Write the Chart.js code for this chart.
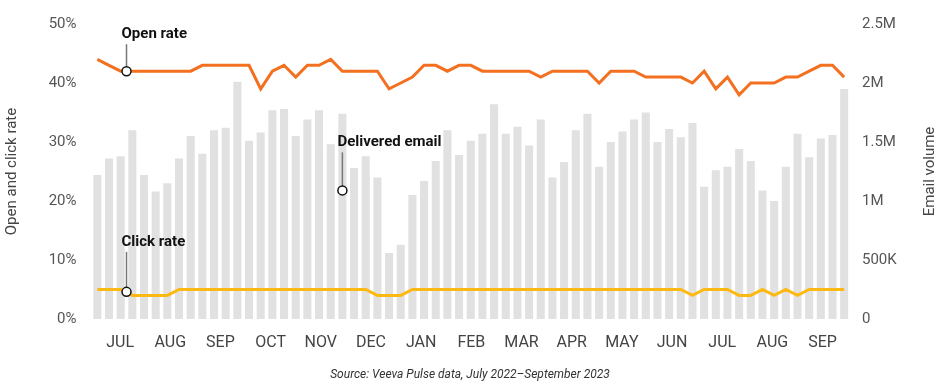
<!DOCTYPE html>
<html>
<head>
<meta charset="utf-8">
<script src="https://cdn.jsdelivr.net/npm/chart.js@4.4.0/dist/chart.umd.min.js"></script>
<style>
  html, body { margin: 0; padding: 0; background: #fff; }
  #wrap { width: 941px; height: 391px; position: relative; }
</style>
</head>
<body>
<div id="wrap"><canvas id="chart" width="941" height="391"></canvas></div>
<script>
// weekly data, July 2022 - September 2023
const deliveredEmail = [
  1.22, 1.36, 1.38, 1.60, 1.22, 1.08, 1.15, 1.36, 1.55, 1.40,
  1.60, 1.62, 2.01, 1.51, 1.58, 1.77, 1.78, 1.55, 1.69, 1.77,
  1.48, 1.74, 1.28, 1.38, 1.20, 0.56, 0.63, 1.05, 1.17, 1.34,
  1.60, 1.39, 1.51, 1.57, 1.82, 1.57, 1.63, 1.47, 1.69, 1.20,
  1.33, 1.60, 1.74, 1.29, 1.50, 1.59, 1.69, 1.75, 1.50, 1.61,
  1.54, 1.66, 1.12, 1.26, 1.29, 1.44, 1.34, 1.09, 1.00, 1.29,
  1.57, 1.37, 1.53, 1.56, 1.95
]; // millions
const openRate = [
  44, 43, 42, 42, 42, 42, 42, 42, 42, 43,
  43, 43, 43, 43, 39, 42, 43, 41, 43, 43,
  44, 42, 42, 42, 42, 39, 40, 41, 43, 43,
  42, 43, 43, 42, 42, 42, 42, 42, 41, 42,
  42, 42, 42, 40, 42, 42, 42, 41, 41, 41,
  41, 40, 42, 39, 41, 38, 40, 40, 40, 41,
  41, 42, 43, 43, 41
];
const clickRate = [
  5, 5, 5, 4, 4, 4, 4, 5, 5, 5,
  5, 5, 5, 5, 5, 5, 5, 5, 5, 5,
  5, 5, 5, 5, 4, 4, 4, 5, 5, 5,
  5, 5, 5, 5, 5, 5, 5, 5, 5, 5,
  5, 5, 5, 5, 5, 5, 5, 5, 5, 5,
  5, 4, 5, 5, 5, 4, 4, 5, 4, 5,
  4, 5, 5, 5, 5
];
const monthLabels = ['JUL', 'AUG', 'SEP', 'OCT', 'NOV', 'DEC', 'JAN', 'FEB', 'MAR', 'APR', 'MAY', 'JUN', 'JUL', 'AUG', 'SEP'];
// position of each month label, in weeks from the first bar
const monthTickPos = [1.95, 6.25, 10.55, 14.85, 19.15, 23.45, 27.75, 32.05, 36.35, 40.65, 44.95, 49.25, 53.55, 57.85, 62.15];

const callouts = [
  { text: 'Open rate', x: 2.5, y: 42, axis: 'yRate', dy: -37 },
  { text: 'Click rate', x: 2.5, y: 4.6, axis: 'yRate', dy: -50 },
  { text: 'Delivered email', x: 21, y: 1.09, axis: 'yVol', dy: -48 }
];

const toPoints = arr => arr.map((v, i) => ({ x: i, y: v }));

const extrasPlugin = {
  id: 'extras',
  afterDatasetsDraw(chart) {
    const ctx = chart.ctx;
    const xs = chart.scales.x;
    const area = chart.chartArea;
    ctx.save();
    callouts.forEach(c => {
      const px = xs.getPixelForValue(c.x);
      const py = chart.scales[c.axis].getPixelForValue(c.y);
      ctx.strokeStyle = '#777';
      ctx.lineWidth = 1.5;
      ctx.beginPath();
      ctx.moveTo(px, py + c.dy + 10);
      ctx.lineTo(px, py);
      ctx.stroke();
      ctx.beginPath();
      ctx.arc(px, py, 4.5, 0, Math.PI * 2);
      ctx.fillStyle = '#fff';
      ctx.fill();
      ctx.strokeStyle = '#111';
      ctx.lineWidth = 1.5;
      ctx.stroke();
      ctx.fillStyle = '#111';
      ctx.font = 'bold 15px Roboto';
      ctx.textAlign = 'left';
      ctx.textBaseline = 'middle';
      ctx.fillText(c.text, px - 5, py + c.dy);
    });

    // right axis title, reading bottom to top
    ctx.save();
    ctx.font = '15px Roboto';
    ctx.fillStyle = '#444';
    ctx.textAlign = 'center';
    ctx.textBaseline = 'middle';
    ctx.translate(930, (area.top + area.bottom) / 2);
    ctx.rotate(-Math.PI / 2);
    ctx.fillText('Email volume', 0, 0);
    ctx.restore();

    // source line
    ctx.font = 'italic 12px Roboto';
    ctx.fillStyle = '#333';
    ctx.textAlign = 'center';
    ctx.textBaseline = 'middle';
    ctx.fillText('Source: Veeva Pulse data, July 2022\u2013September 2023', 470, 375);
    ctx.restore();
  }
};

const ctx = document.getElementById('chart').getContext('2d');
new Chart(ctx, {
  data: {
    datasets: [
      {
        type: 'line',
        label: 'Open rate',
        data: toPoints(openRate),
        yAxisID: 'yRate',
        borderColor: '#F37021',
        borderWidth: 3,
        pointRadius: 0,
        tension: 0,
        order: 1
      },
      {
        type: 'line',
        label: 'Click rate',
        data: toPoints(clickRate),
        yAxisID: 'yRate',
        borderColor: '#FDB913',
        borderWidth: 3,
        pointRadius: 0,
        tension: 0,
        order: 2
      },
      {
        type: 'bar',
        label: 'Delivered email',
        data: toPoints(deliveredEmail),
        yAxisID: 'yVol',
        backgroundColor: '#E1E1E1',
        barPercentage: 0.69,
        categoryPercentage: 1,
        order: 3
      }
    ]
  },
  options: {
    responsive: false,
    animation: false,
    layout: { padding: { top: 18, right: 0, left: 0, bottom: 0 } },
    plugins: {
      legend: { display: false },
      tooltip: { enabled: false }
    },
    scales: {
      x: {
        type: 'linear',
        offset: false,
        min: -0.5,
        max: 64.5,
        grid: { display: false, drawTicks: false },
        border: { display: false },
        afterBuildTicks: axis => {
          axis.ticks = monthTickPos.map(v => ({ value: v }));
        },
        afterFit: axis => { axis.height = 72; },
        ticks: {
          autoSkip: false,
          maxRotation: 0,
          padding: 14,
          color: '#444',
          font: { family: 'Roboto', size: 16 },
          callback: (v, i) => monthLabels[i]
        }
      },
      yRate: {
        position: 'left',
        min: 0,
        max: 50,
        grid: { display: false, drawTicks: false },
        border: { display: false },
        afterFit: axis => { axis.width = 91.5; },
        ticks: {
          stepSize: 10,
          padding: 15,
          color: '#555',
          font: { family: 'Roboto', size: 15 },
          callback: v => v + '%'
        },
        title: {
          display: true,
          text: 'Open and click rate',
          color: '#444',
          font: { family: 'Roboto', size: 15 },
          padding: { top: 3, bottom: 0 }
        }
      },
      yVol: {
        position: 'right',
        min: 0,
        max: 2.5,
        grid: { display: false, drawTicks: false },
        border: { display: false },
        afterFit: axis => { axis.width = 91; },
        ticks: {
          stepSize: 0.5,
          padding: 12,
          color: '#555',
          font: { family: 'Roboto', size: 15 },
          callback: v => v === 0 ? '0' : (v < 1 ? Math.round(v * 1000) + 'K' : v + 'M')
        }
      }
    }
  },
  plugins: [extrasPlugin]
});
</script>
</body>
</html>
